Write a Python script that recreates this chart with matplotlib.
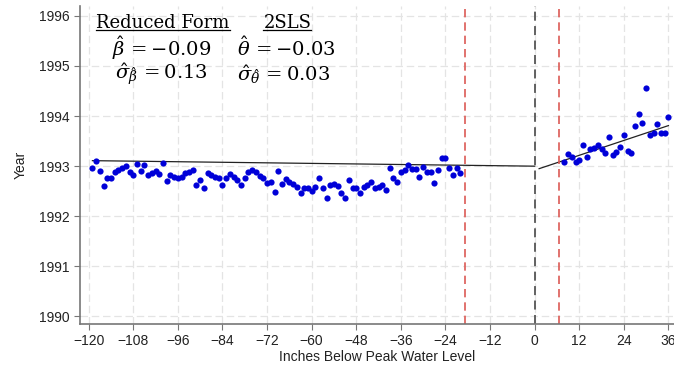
import numpy as np
import matplotlib
matplotlib.use("Agg")
from matplotlib import pyplot as plt

# binned means, below peak (left) and above (right)
left_x = np.arange(-119, -19)
left_y = [
    1992.97, 1993.11, 1992.91, 1992.60, 1992.76, 1992.76, 1992.88, 1992.93,
    1992.96, 1993.00, 1992.88, 1992.83, 1993.05, 1992.91, 1993.03, 1992.83,
    1992.86, 1992.91, 1992.85, 1993.06, 1992.71, 1992.83, 1992.79, 1992.76,
    1992.79, 1992.86, 1992.88, 1992.93, 1992.63, 1992.73, 1992.56, 1992.86,
    1992.83, 1992.79, 1992.76, 1992.63, 1992.76, 1992.84, 1992.79, 1992.73,
    1992.63, 1992.76, 1992.88, 1992.93, 1992.89, 1992.81, 1992.76, 1992.66,
    1992.69, 1992.49, 1992.91, 1992.64, 1992.74, 1992.69, 1992.64, 1992.59,
    1992.46, 1992.56, 1992.56, 1992.51, 1992.59, 1992.76, 1992.57, 1992.37,
    1992.63, 1992.64, 1992.61, 1992.46, 1992.36, 1992.73, 1992.57, 1992.56,
    1992.46, 1992.59, 1992.63, 1992.68, 1992.56, 1992.59, 1992.63, 1992.53,
    1992.97, 1992.76, 1992.68, 1992.89, 1992.93, 1993.03, 1992.95, 1992.95,
    1992.78, 1992.99, 1992.88, 1992.89, 1992.66, 1992.93, 1993.16, 1993.17,
    1992.97, 1992.83, 1992.97, 1992.86,
]
right_x = np.arange(8, 37)
right_y = [
    1993.09, 1993.24, 1993.18, 1993.09, 1993.13, 1993.43, 1993.18, 1993.34,
    1993.36, 1993.43, 1993.34, 1993.26, 1993.58, 1993.23, 1993.29, 1993.38,
    1993.62, 1993.31, 1993.27, 1993.80, 1994.04, 1993.87, 1994.56, 1993.62,
    1993.67, 1993.84, 1993.66, 1993.67, 1993.99,
]

# fitted lines (end points)
fit_left_x = [-119, 0]
fit_left_y = [1993.11, 1993.00]
fit_right_x = [1.2, 36]
fit_right_y = [1992.95, 1993.81]

cutoff = 0
bandwidth = [-18.75, 6.5]

x_ticks = list(range(-120, 37, 12))
y_ticks = list(range(1990, 1997))

plt.rcParams['font.family'] = ['Liberation Sans', 'DejaVu Sans']
plt.rcParams['mathtext.fontset'] = 'dejavuserif'

fig = plt.figure(figsize=(6.74, 3.66), dpi=100)
ax = fig.add_axes([0.1187, 0.1148, 0.8813, 0.8692])

ax.grid(True, color='#e4e4e4', linestyle=(0, (6, 3)), linewidth=0.9)
ax.set_axisbelow(True)

ax.scatter(left_x, left_y, s=20, color='#0000d8', zorder=3, linewidths=0)
ax.scatter(right_x, right_y, s=20, color='#0000d8', zorder=3, linewidths=0)
ax.plot(fit_left_x, fit_left_y, color='#222222', lw=0.9, zorder=2)
ax.plot(fit_right_x, fit_right_y, color='#222222', lw=0.9, zorder=2)

ax.axvline(cutoff, color='#555555', ls=(0, (5, 3)), lw=1.3, zorder=2)
for b in bandwidth:
    ax.axvline(b, color='#dc5a55', ls=(0, (5, 3)), lw=1.2, zorder=2)

ax.set_xlim(-122.34, 37.5)
ax.set_ylim(1989.85, 1996.2)
ax.set_xticks(x_ticks)
ax.set_yticks(y_ticks)
ax.tick_params(direction='out', length=4, color='#777777', labelsize=10,
               labelcolor='#222222')
for s in ['top', 'right']:
    ax.spines[s].set_visible(False)
for s in ['left', 'bottom']:
    ax.spines[s].set_color('#777777')
    ax.spines[s].set_linewidth(1.2)

ax.set_xlabel("Inches Below Peak Water Level", fontsize=10, color='#222222',
              labelpad=1)
ax.set_ylabel("Year", fontsize=10, color='#222222', labelpad=8)

# estimates box
serif = ['DejaVu Serif']
h1 = ax.text(-118, 1995.86, "Reduced Form", family=serif, fontsize=13,
             va='center', ha='left')
h2 = ax.text(-73, 1995.86, "2SLS", family=serif, fontsize=13,
             va='center', ha='left')
ax.text(-113.7, 1995.36, r"$\hat{\beta}\, = -0.09$", fontsize=14,
        va='center', ha='left')
ax.text(-80.1, 1995.36, r"$\hat{\theta}\, = -0.03$", fontsize=14,
        va='center', ha='left')
ax.text(-113, 1994.82, r"$\hat{\sigma}_{\hat{\beta}}\, = 0.13$", fontsize=14,
        va='center', ha='left')
ax.text(-80, 1994.82, r"$\hat{\sigma}_{\hat{\theta}}\, = 0.03$", fontsize=14,
        va='center', ha='left')

fig.canvas.draw()
r = fig.canvas.get_renderer()
inv = ax.transData.inverted()
for t in (h1, h2):
    bb = t.get_window_extent(r)
    (x0, y0), (x1, _) = inv.transform([[bb.x0, bb.y0], [bb.x1, bb.y0]])
    ax.plot([x0, x1], [y0 + 0.03, y0 + 0.03], color='black', lw=0.9,
            clip_on=False)

fig.savefig("out.png", dpi=100)
